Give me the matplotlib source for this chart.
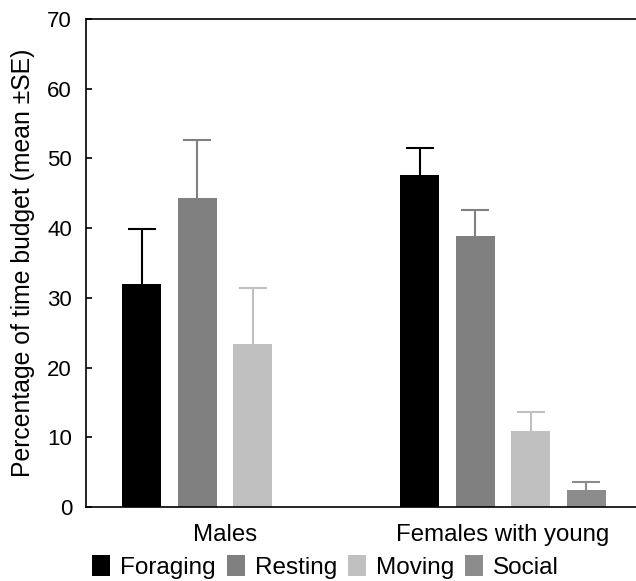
import numpy as np
import matplotlib
matplotlib.use('Agg')
import matplotlib.pyplot as plt

plt.rcParams['font.family'] = ['Liberation Sans', 'DejaVu Sans']

# Data
groups = ['Males', 'Females with young']
behaviours = ['Foraging', 'Resting', 'Moving', 'Social']
colors = ['#000000', '#808080', '#c0c0c0', '#8c8c8c']
means = {
    'Foraging': [32.0, 47.6],
    'Resting': [44.3, 38.9],
    'Moving': [23.4, 10.9],
    'Social': [np.nan, 2.4],
}
se = {
    'Foraging': [7.8, 3.9],
    'Resting': [8.4, 3.7],
    'Moving': [8.0, 2.7],
    'Social': [np.nan, 1.2],
}

fig = plt.figure(figsize=(6.36, 5.81), dpi=100)
ax = fig.add_axes([0.1352, 0.1274, 0.874, 0.840])

x = np.arange(len(groups))
width = 0.14
step = 0.2
for i, b in enumerate(behaviours):
    pos = x + (i - 1.5) * step
    m = np.array(means[b])
    e = np.array(se[b])
    ax.bar(pos, np.nan_to_num(m), width, color=colors[i], linewidth=0, label=b)
    ok = ~np.isnan(m)
    eb = ax.errorbar(pos[ok], m[ok], yerr=[np.zeros(ok.sum()), e[ok]], fmt='none',
                     ecolor=colors[i], elinewidth=1.5, capsize=10, capthick=1.5)
    # only upper caps, hide the ones sitting on the bar tops
    for cap in eb[1]:
        if np.allclose(cap.get_ydata(), m[ok]):
            cap.set_visible(False)

ax.set_xlim(-0.5, 1.5)
ax.set_ylim(0, 70)
ax.set_yticks(range(0, 71, 10))
ax.set_xticks(x)
ax.set_xticklabels(groups, fontsize=17.3)
ax.tick_params(axis='x', length=0, pad=12)
ax.tick_params(axis='y', direction='in', length=4, width=1.2, labelsize=16, pad=10)
ax.set_ylabel('Percentage of time budget (mean ±SE)', fontsize=17.8, labelpad=9)
ax.spines['right'].set_visible(False)
for s in ['left', 'top', 'bottom']:
    ax.spines[s].set_linewidth(1.2)

fig.legend(loc='lower left', bbox_to_anchor=(0.122, -0.022), ncol=4, frameon=False,
           fontsize=17.5, handlelength=0.75, handleheight=0.95, handletextpad=0.4,
           columnspacing=0.45, borderaxespad=0.2)

fig.savefig('out.png', dpi=100)
